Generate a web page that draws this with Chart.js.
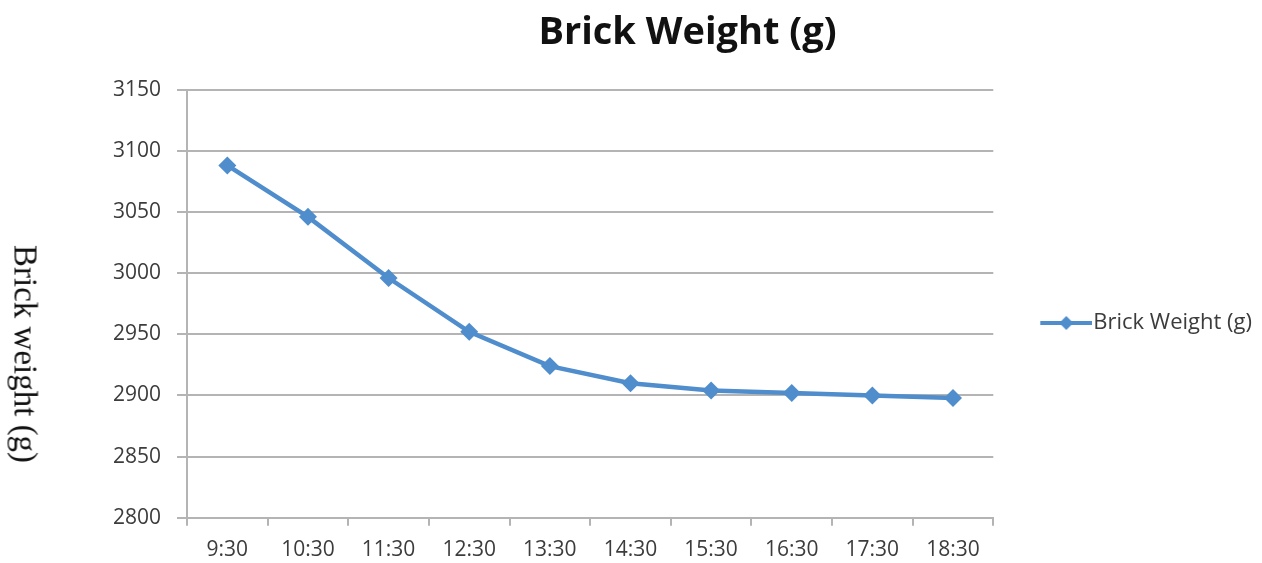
<!DOCTYPE html>
<html>
<head>
<meta charset="utf-8">
<script src="https://cdn.jsdelivr.net/npm/chart.js@4.4.1/dist/chart.umd.min.js"></script>
<style>
  html, body { margin: 0; padding: 0; background: #fff; }
  #wrap { position: relative; width: 1262px; height: 563px; }
  #yTitle {
    position: absolute; left: 25px; top: 354px;
    transform: translate(-50%, -50%) rotate(90deg);
    font-family: "Liberation Serif", serif; font-size: 33px; color: #111;
    white-space: nowrap;
  }
</style>
</head>
<body>
<div id="wrap">
  <canvas id="brickChart" width="1262" height="563"></canvas>
  <div id="yTitle">Brick weight (g)</div>
</div>
<script>
"use strict";

// Data
const TIMES = ["9:30", "10:30", "11:30", "12:30", "13:30", "14:30", "15:30", "16:30", "17:30", "18:30"];
const WEIGHTS = [3088, 3046, 2996, 2952, 2924, 2910, 2904, 2902, 2900, 2898];
const SERIES_NAME = "Brick Weight (g)";
const Y_MIN = 2800;
const Y_MAX = 3150;
const Y_STEP = 50;

const BLUE = "#4f8dcd";
const GRID = "#b4b4b4";
const TEXT = "#3c3c3c";

// Legend marker: short line with a diamond, drawn on a small canvas
function legendMarker() {
    let c = document.createElement("canvas");
    c.width = 99;
    c.height = 20;
    let g = c.getContext("2d");
    g.strokeStyle = BLUE;
    g.lineWidth = 4;
    g.beginPath();
    g.moveTo(47, 10);
    g.lineTo(99, 10);
    g.stroke();
    g.fillStyle = BLUE;
    g.beginPath();
    g.moveTo(73, 3);
    g.lineTo(80, 10);
    g.lineTo(73, 17);
    g.lineTo(66, 10);
    g.closePath();
    g.fill();
    return c;
}

// Push the legend down a little, like the original
const legendShift = {
    id: "legendShift",
    afterLayout(chart) {
        chart.legend.top += 42;
        chart.legend.bottom += 42;
    }
};

let ctx = document.getElementById("brickChart").getContext("2d");

let brickChart = new Chart(ctx, {
    type: "line",
    data: {
        labels: TIMES,
        datasets: [{
            label: SERIES_NAME,
            data: WEIGHTS,
            borderColor: BLUE,
            backgroundColor: BLUE,
            borderWidth: 4.5,
            pointStyle: "rectRot",
            pointRadius: 9,
            pointBorderWidth: 0,
            tension: 0
        }]
    },
    options: {
        responsive: false,
        animation: false,
        layout: { padding: { left: 113, right: 0, top: 0, bottom: 1 } },
        plugins: {
            title: {
                display: true,
                text: SERIES_NAME,
                color: "#111",
                font: { family: "Open Sans", size: 38, weight: "bold" },
                padding: { top: 10, bottom: 34 }
            },
            legend: {
                position: "right",
                labels: {
                    usePointStyle: true,
                    pointStyle: legendMarker(),
                    pointStyleWidth: 79,
                    color: TEXT,
                    font: { family: "Open Sans", size: 22 }
                }
            },
            tooltip: { enabled: false }
        },
        scales: {
            x: {
                offset: true,
                grid: {
                    offset: true,
                    drawOnChartArea: false,
                    color: GRID,
                    lineWidth: 2,
                    tickLength: 8
                },
                border: { color: GRID, width: 2 },
                ticks: {
                    color: TEXT,
                    padding: 12,
                    maxRotation: 0,
                    font: { family: "Open Sans", size: 21 }
                },
                afterFit: function(scale) {
                    scale.height -= 13;
                }
            },
            y: {
                min: Y_MIN,
                max: Y_MAX,
                grid: { color: GRID, lineWidth: 2, tickLength: 10 },
                border: { color: GRID, width: 2 },
                ticks: {
                    stepSize: Y_STEP,
                    color: TEXT,
                    padding: 16,
                    font: { family: "Open Sans", size: 21 },
                    callback: function(value) {
                        return String(value);
                    }
                },
                afterFit: function(scale) {
                    scale.width -= 16;
                }
            }
        }
    },
    plugins: [legendShift]
});
</script>
</body>
</html>
